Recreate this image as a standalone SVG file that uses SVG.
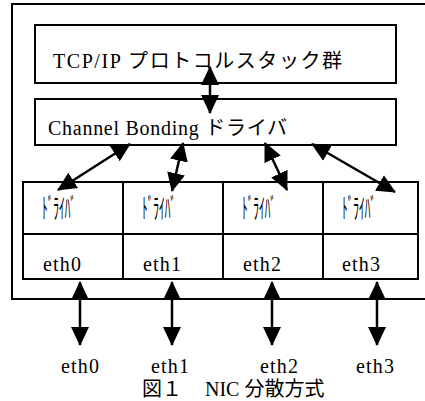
<svg xmlns="http://www.w3.org/2000/svg" width="425" height="401" viewBox="0 0 425 401">
<style>
.box{fill:#fff;stroke:#000;stroke-width:2}
.t{font-family:'Liberation Serif','Times New Roman','DejaVu Serif','Noto Sans CJK JP',serif;font-size:20px;fill:#000}
.k{font-family:'Noto Sans CJK JP',sans-serif;font-size:28px;fill:#000}
.arr{fill:none;stroke:#000;stroke-width:2.5;marker-start:url(#ah);marker-end:url(#ah)}
</style>
<defs>
<marker id="ah" markerUnits="userSpaceOnUse" markerWidth="19" markerHeight="19" refX="18" refY="9" orient="auto-start-reverse" viewBox="0 0 19 18">
<path d="M0,0 L19,9 L0,18 z" fill="#000"/>
</marker>
</defs>
<rect width="425" height="401" fill="#fff"/>
<g id="frame"><rect class="box" x="12" y="4" width="430" height="295"/></g>
<g id="tcp">
<rect class="box" x="35" y="25" width="361" height="58"/>
<text class="t" x="53" y="68" textLength="289">TCP/IP プロトコルスタック群</text>
</g>
<g id="bonding">
<rect class="box" x="35" y="99" width="361" height="46"/>
<text class="t" x="48" y="135" textLength="239">Channel Bonding ドライバ</text>
</g>
<g id="nic0">
<rect class="box" x="23" y="182" width="100" height="52"/>
<rect class="box" x="23" y="234" width="100" height="45"/>
<text class="k" x="42" y="219" textLength="34" lengthAdjust="spacingAndGlyphs">ﾄﾞﾗｲﾊﾞ</text>
<text class="t" x="43" y="271" textLength="38">eth0</text>
</g>
<g id="nic1">
<rect class="box" x="123" y="182" width="100" height="52"/>
<rect class="box" x="123" y="234" width="100" height="45"/>
<text class="k" x="142" y="219" textLength="34" lengthAdjust="spacingAndGlyphs">ﾄﾞﾗｲﾊﾞ</text>
<text class="t" x="143" y="271" textLength="38">eth1</text>
</g>
<g id="nic2">
<rect class="box" x="223" y="182" width="100" height="52"/>
<rect class="box" x="223" y="234" width="100" height="45"/>
<text class="k" x="242" y="219" textLength="34" lengthAdjust="spacingAndGlyphs">ﾄﾞﾗｲﾊﾞ</text>
<text class="t" x="243" y="271" textLength="38">eth2</text>
</g>
<g id="nic3">
<rect class="box" x="323" y="182" width="95" height="52"/>
<rect class="box" x="323" y="234" width="95" height="45"/>
<text class="k" x="342" y="219" textLength="34" lengthAdjust="spacingAndGlyphs">ﾄﾞﾗｲﾊﾞ</text>
<text class="t" x="342" y="271" textLength="38">eth3</text>
</g>
<g id="connectors">
<line class="arr" x1="210" y1="67" x2="210" y2="113"/>
<line class="arr" x1="130" y1="144" x2="58" y2="190"/>
<line class="arr" x1="183" y1="143" x2="172" y2="191"/>
<line class="arr" x1="265" y1="143" x2="287" y2="190"/>
<line class="arr" x1="312" y1="144" x2="395" y2="192"/>
<line class="arr" x1="80" y1="282" x2="80" y2="345"/>
<line class="arr" x1="172" y1="282" x2="172" y2="345"/>
<line class="arr" x1="272" y1="282" x2="272" y2="345"/>
<line class="arr" x1="377" y1="282" x2="377" y2="345"/>
</g>
<g id="labels">
<text class="t" x="80" y="373" text-anchor="middle" textLength="38">eth0</text>
<text class="t" x="170" y="373" text-anchor="middle" textLength="38">eth1</text>
<text class="t" x="279" y="373" text-anchor="middle" textLength="38">eth2</text>
<text class="t" x="375" y="373" text-anchor="middle" textLength="38">eth3</text>
<text class="t" x="142" y="396">図１<tspan x="205">NIC 分散方式</tspan></text>
</g>
</svg>
